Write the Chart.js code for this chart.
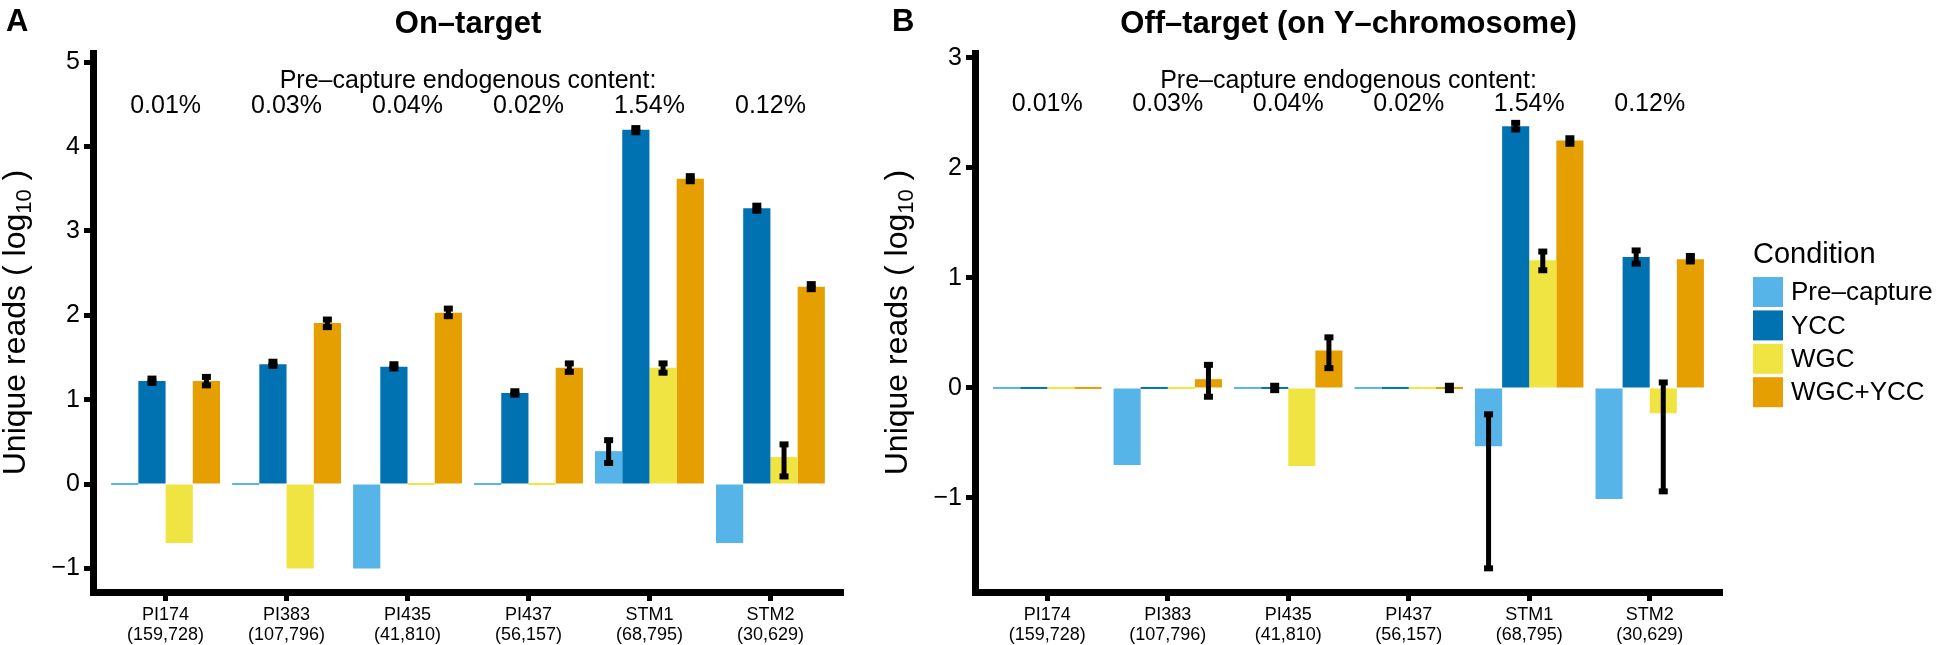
<!DOCTYPE html>
<html>
<head>
<meta charset="utf-8">
<script src="https://cdn.jsdelivr.net/npm/chart.js@4.4.1/dist/chart.umd.min.js"></script>
<style>
  html, body { margin: 0; padding: 0; background: #fff; }
  #wrap { position: relative; width: 1939px; height: 645px; overflow: hidden; }
  #chartA { position: absolute; left: 0; top: 0; }
  #chartB { position: absolute; left: 860px; top: 0; }
</style>
</head>
<body>
<div id="wrap">
  <canvas id="chartA" width="860" height="645"></canvas>
  <canvas id="chartB" width="1079" height="645"></canvas>
</div>
<script>
const samples = ["PI174", "PI383", "PI435", "PI437", "STM1", "STM2"];
const readCounts = ["(159,728)", "(107,796)", "(41,810)", "(56,157)", "(68,795)", "(30,629)"];
const endoContent = ["0.01%", "0.03%", "0.04%", "0.02%", "1.54%", "0.12%"];
const conditions = ["Pre\u2013capture", "YCC", "WGC", "WGC+YCC"];
const conditionColors = ["#56B4E9", "#0072B2", "#F0E442", "#E69F00"];

// panel A: on-target, log10 unique reads
const onPre  = [0, 0, -1.0, 0, 0.39, -0.70];
const onYcc  = [1.22, 1.42, 1.39, 1.08, 4.20, 3.27];
const onWgc  = [-0.70, -1.0, 0, 0, 1.38, 0.32];
const onBoth = [1.22, 1.91, 2.03, 1.38, 3.62, 2.34];
const onPreErr  = [null, null, null, null, [0.25, 0.52], null];
const onYccErr  = [[1.20, 1.25], [1.40, 1.45], [1.37, 1.42], [1.06, 1.10], [4.17, 4.22], [3.24, 3.30]];
const onWgcErr  = [null, null, null, null, [1.32, 1.43], [0.09, 0.47]];
const onBothErr = [[1.17, 1.27], [1.86, 1.95], [1.99, 2.08], [1.33, 1.43], [3.59, 3.65], [2.31, 2.37]];
const yTicksA = [-1, 0, 1, 2, 3, 4, 5];

// panel B: off-target (Y chromosome)
const offPre  = [0, -0.70, 0, 0, -0.53, -1.01];
const offYcc  = [0, 0, 0, 0, 2.38, 1.19];
const offWgc  = [0, 0, -0.71, 0, 1.16, -0.23];
const offBoth = [0, 0.08, 0.34, 0, 2.25, 1.17];
const offPreErr  = [null, null, null, null, [-1.64, -0.24], null];
const offYccErr  = [null, null, [-0.02, 0.02], null, [2.35, 2.41], [1.13, 1.25]];
const offWgcErr  = [null, null, null, null, [1.07, 1.24], [-0.94, 0.05]];
const offBothErr = [null, [-0.08, 0.21], [0.18, 0.46], [-0.02, 0.02], [2.22, 2.27], [1.15, 1.20]];
const yTicksB = [-1, 0, 1, 2, 3];

const FONT = "'Liberation Sans', Arial, Helvetica, sans-serif";

const errorBars = {
  id: "errorBars",
  afterDatasetsDraw(chart, args, opts) {
    const ctx = chart.ctx;
    const y = chart.scales.y;
    opts.errors.forEach((errs, di) => {
      const meta = chart.getDatasetMeta(di);
      errs.forEach((e, i) => {
        if (!e) return;
        const x = meta.data[i].x;
        const lo = y.getPixelForValue(e[0]);
        const hi = y.getPixelForValue(e[1]);
        ctx.save();
        ctx.strokeStyle = "#000";
        ctx.lineWidth = 5;
        ctx.beginPath();
        ctx.moveTo(x, lo);
        ctx.lineTo(x, hi);
        ctx.stroke();
        ctx.lineWidth = 6;
        [lo, hi].forEach(p => {
          ctx.beginPath();
          ctx.moveTo(x - 4.5, p);
          ctx.lineTo(x + 4.5, p);
          ctx.stroke();
        });
        ctx.restore();
      });
    });
  }
};

const panelText = {
  id: "panelText",
  afterDraw(chart, args, opts) {
    const ctx = chart.ctx, a = chart.chartArea, xs = chart.scales.x;
    ctx.save();
    ctx.fillStyle = "#000";
    ctx.textAlign = "center";
    ctx.textBaseline = "middle";
    ctx.font = "25px " + FONT;
    ctx.fillText("Pre\u2013capture endogenous content:", (a.left + a.right) / 2, a.top + 28);
    endoContent.forEach((t, i) => ctx.fillText(t, xs.getPixelForValue(i), a.top + opts.pctOffset));

    ctx.font = "bold 31px " + FONT;
    ctx.textAlign = "left";
    ctx.textBaseline = "alphabetic";
    ctx.fillText(opts.letter, opts.letterX, 31);

    // y axis title with subscript
    const main1 = "Unique reads ( log", sub = "10", main2 = " )";
    const big = "32px " + FONT, small = "22px " + FONT;
    ctx.font = big;
    const w1 = ctx.measureText(main1).width, w3 = ctx.measureText(main2).width;
    ctx.font = small;
    const w2 = ctx.measureText(sub).width;
    const total = w1 + w2 + w3;
    ctx.translate(a.left - 68, (a.top + a.bottom) / 2);
    ctx.rotate(-Math.PI / 2);
    let cx = -total / 2;
    ctx.font = big;
    ctx.fillText(main1, cx, 0);
    cx += w1;
    ctx.font = small;
    ctx.fillText(sub, cx, 6);
    cx += w2;
    ctx.font = big;
    ctx.fillText(main2, cx, 0);
    ctx.restore();
  }
};

const conditionLegend = {
  id: "conditionLegend",
  afterDraw(chart, args, opts) {
    if (!opts.show) return;
    const ctx = chart.ctx, a = chart.chartArea;
    const x0 = a.right + 31;
    ctx.save();
    ctx.textAlign = "left";
    ctx.textBaseline = "middle";
    ctx.fillStyle = "#000";
    ctx.font = "29px " + FONT;
    ctx.fillText("Condition", x0, a.top + 202);
    ctx.font = "26px " + FONT;
    chart.data.datasets.forEach((ds, i) => {
      const top = a.top + 224 + i * 33.4;
      ctx.fillStyle = ds.backgroundColor;
      ctx.fillRect(x0, top, 30, 30);
      ctx.fillStyle = "#000";
      ctx.fillText(ds.label, x0 + 38, top + 16);
    });
    ctx.restore();
  }
};

function makePanel(canvasId, opt) {
  const series = opt.series;
  return new Chart(document.getElementById(canvasId), {
    type: "bar",
    data: {
      labels: samples.map((s, i) => [s, readCounts[i]]),
      datasets: conditions.map((c, i) => ({
        label: c,
        data: series[i],
        backgroundColor: conditionColors[i],
        borderWidth: 0,
        barPercentage: 1.0,
        categoryPercentage: 0.9,
        minBarLength: 2
      }))
    },
    options: {
      responsive: false,
      animation: false,
      layout: { padding: { left: 0, right: opt.padRight, top: 0, bottom: 0 } },
      scales: {
        x: {
          afterBuildTicks: s => { s._startValue = -0.6; s._valueRange = samples.length + 0.2; },
          afterFit: s => { s.height = 53; },
          border: { display: true, width: 7, color: "#000" },
          grid: { drawOnChartArea: false, offset: false, tickLength: 9, tickWidth: 5, tickColor: "#000" },
          ticks: { font: { family: FONT, size: 18, lineHeight: 1.1 }, color: "#000", padding: 4, autoSkip: false, maxRotation: 0 }
        },
        y: {
          min: opt.yMin,
          max: opt.yMax,
          afterBuildTicks: s => { s.ticks = opt.yTicks.map(v => ({ value: v })); },
          afterFit: s => { s.width = opt.yWidth; },
          border: { display: true, width: 7, color: "#000" },
          grid: { drawOnChartArea: false, tickLength: 9, tickWidth: 5, tickColor: "#000" },
          ticks: {
            font: { family: FONT, size: 25 }, color: "#000", padding: 4,
            callback: v => (v < 0 ? "\u2212" + Math.abs(v) : String(v))
          }
        }
      },
      plugins: {
        legend: { display: false },
        tooltip: { enabled: false },
        title: {
          display: true,
          text: opt.title,
          fullSize: false,
          color: "#000",
          font: { family: FONT, size: 31, weight: "bold" },
          padding: { top: 6, bottom: 9.8 }
        },
        errorBars: { errors: opt.errors },
        panelText: { letter: opt.letter, letterX: opt.letterX, pctOffset: opt.pctOffset },
        conditionLegend: { show: opt.legend }
      }
    },
    plugins: [errorBars, panelText, conditionLegend]
  });
}

makePanel("chartA", {
  title: "On\u2013target",
  series: [onPre, onYcc, onWgc, onBoth],
  errors: [onPreErr, onYccErr, onWgcErr, onBothErr],
  yMin: -1.28, yMax: 5.11, yTicks: yTicksA,
  yWidth: 93, padRight: 17,
  letter: "A", letterX: 6, pctOffset: 53, legend: false
});

makePanel("chartB", {
  title: "Off\u2013target (on Y\u2013chromosome)",
  series: [offPre, offYcc, offWgc, offBoth],
  errors: [offPreErr, offYccErr, offWgcErr, offBothErr],
  yMin: -1.855, yMax: 3.045, yTicks: yTicksB,
  yWidth: 115, padRight: 217,
  letter: "B", letterX: 32, pctOffset: 51, legend: true
});
</script>
</body>
</html>
